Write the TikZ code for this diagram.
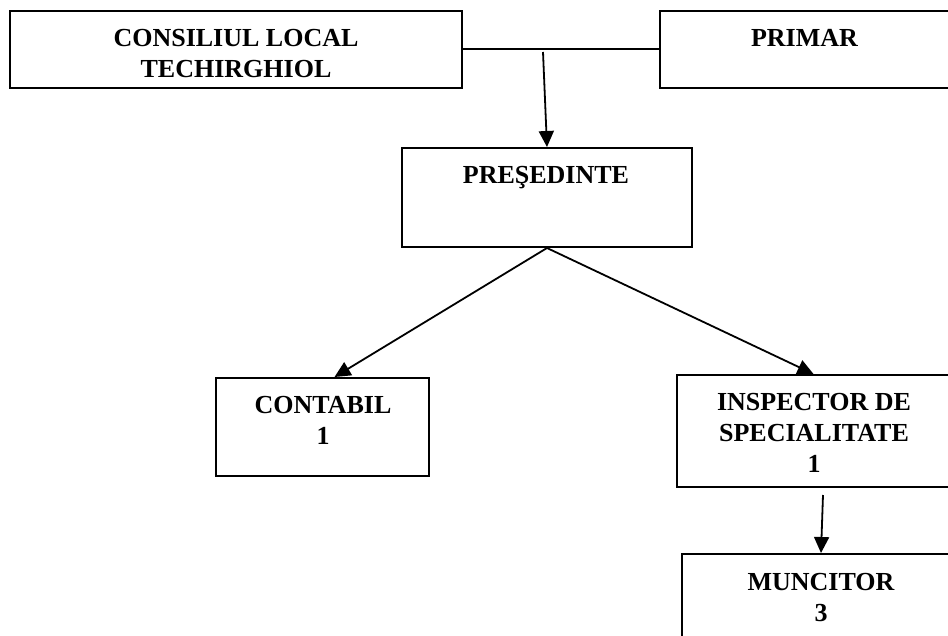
\documentclass[tikz,border=0pt]{standalone}
\usepackage{fontspec}
\setmainfont{Liberation Serif}
\usetikzlibrary{arrows.meta}
\tikzset{
  box/.style={draw, line width=2pt, inner sep=0pt, rectangle},
  lbl/.style={anchor=north, inner sep=0pt, align=center, font=\fontsize{26}{31}\selectfont\bfseries},
  conn/.style={line width=2pt},
  arr/.style={line width=1.8pt, -{Triangle[length=16pt,width=15pt]}}
}
\begin{document}
\begin{tikzpicture}[x=1pt,y=-1pt]
\useasboundingbox (0,0) rectangle (948,635);
\clip (0,0) rectangle (948,635);
% boxes
\node[box, minimum width=452pt, minimum height=77pt] (cons) at (236,49) {};
\node[box, minimum width=300pt, minimum height=77pt] (prim) at (810,49) {};
\node[box, minimum width=290pt, minimum height=99pt] (pres) at (547,197.5) {};
\node[box, minimum width=213pt, minimum height=98pt] (cont) at (322.5,427) {};
\node[box, minimum width=273pt, minimum height=112pt] (insp) at (813.5,431) {};
\node[box, minimum width=278pt, minimum height=100pt] (munc) at (821,604) {};
% texts
\node[lbl] (tcons) at (236,29.5) {CONSILIUL LOCAL\\TECHIRGHIOL};
\node[lbl] (tprim) at (804.5,29.5) {PRIMAR};
\node[lbl] (tpres) at (546,166.5) {PREŞEDINTE};
\node[lbl] (tcont) at (323,396) {CONTABIL\\1};
\node[lbl] (tinsp) at (814,393) {INSPECTOR DE\\SPECIALITATE\\1};
\node[lbl] (tmunc) at (821,573) {MUNCITOR\\3};
% connectors
\draw[conn] (cons.east) -- (prim.west);
\coordinate (start1) at (543,52);
\draw[arr] (start1) -- (pres.north);
\draw[arr] (pres.south) -- ([xshift=12pt]cont.north);
\draw[arr] (pres.south) -- (insp.north);
\coordinate (start2) at (823,495);
\draw[arr] (start2) -- (munc.north);
\end{tikzpicture}
\end{document}
